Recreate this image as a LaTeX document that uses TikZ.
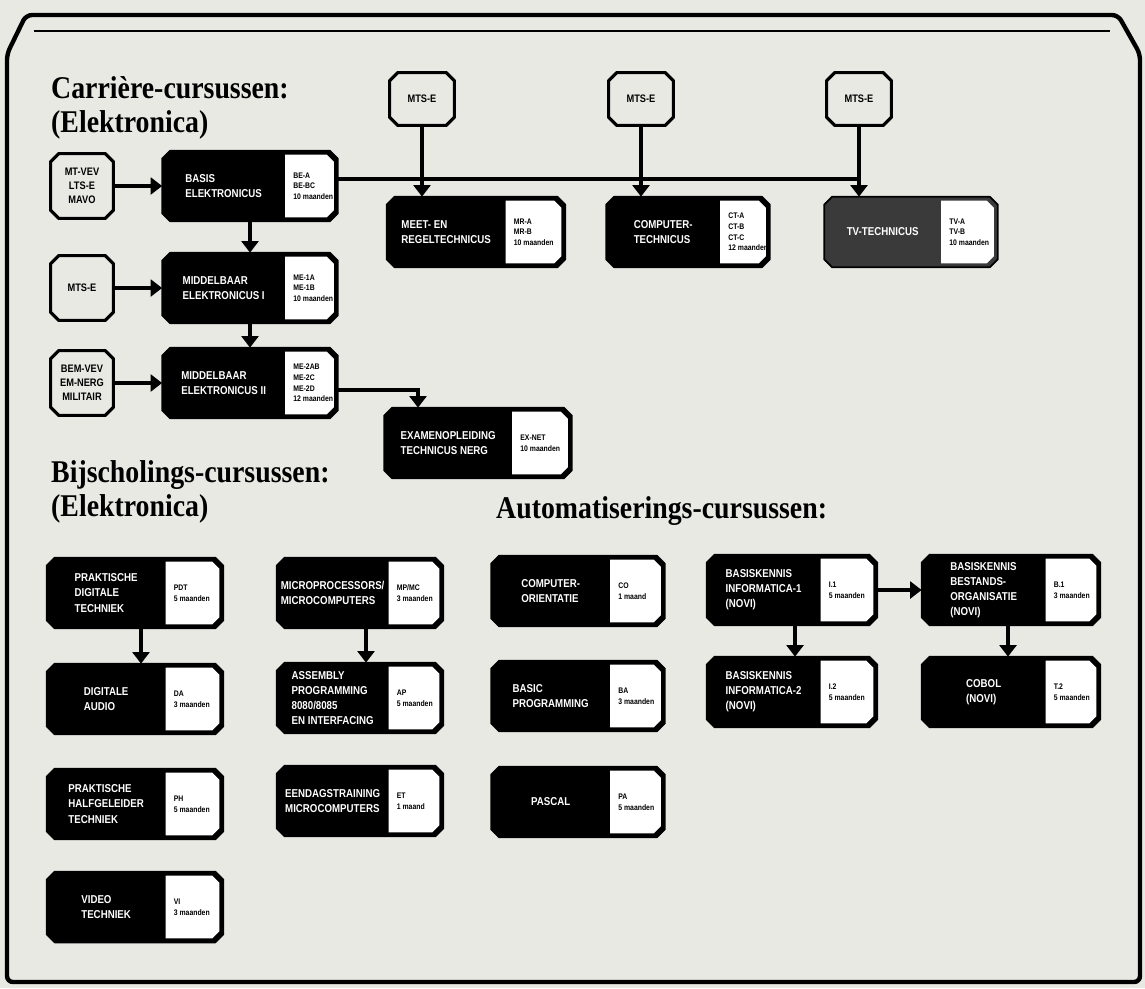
\documentclass[tikz,border=0pt]{standalone}
\usepackage{fontspec}
\usetikzlibrary{arrows.meta,calc}
\setmainfont{Liberation Serif}
\newfontfamily\headfont[FakeStretch=0.88]{Liberation Serif}
\newfontfamily\boxfont[FakeStretch=0.85]{Liberation Sans}

\def\pix{0.02cm}
\definecolor{paper}{RGB}{233,233,228}
\definecolor{tvgrey}{RGB}{58,58,58}

\tikzset{
  coursebox/.style={rectangle, inner sep=0pt, minimum height=70*\pix},
  panelbox/.style={rectangle, inner sep=0pt, minimum height=62*\pix},
  srcbox/.style={rectangle, inner sep=0pt, align=center, font=\boxfont\bfseries\fontsize{6.2}{8}\selectfont},
  titletext/.style={text=white, align=left, font=\boxfont\bfseries\fontsize{6.5}{8.6}\selectfont},
  codetext/.style={align=left, font=\boxfont\bfseries\fontsize{4.6}{6}\selectfont},
  headtext/.style={anchor=base west, font=\headfont\bfseries\fontsize{18}{20}\selectfont},
  flow/.style={line width=1.8pt, -{Triangle[width=9.5pt,length=6.5pt]}},
  plain/.style={line width=1.8pt}
}

% outline with cut corners round a node
\newcommand{\cutbox}[3]{%
  \path[#3] ([xshift=#2]#1.north west) -- ([xshift=-#2]#1.north east) -- ([yshift=-#2]#1.north east)
    -- ([yshift=#2]#1.south east) -- ([xshift=-#2]#1.south east) -- ([xshift=#2]#1.south west)
    -- ([yshift=#2]#1.south west) -- ([yshift=-#2]#1.north west) -- cycle;}

% box with a white code panel at its right end
\newcommand{\course}[7][black]{%
  \node[coursebox, minimum width=#4*\pix] (#2) at (#3) {};
  \cutbox{#2}{8*\pix}{fill=#1, draw=black, line width=1pt, line join=round}
  \node[panelbox, minimum width=#5*\pix, anchor=east] (#2-p) at ([xshift=-4*\pix]#2.east) {};
  \fill[white] (#2-p.north west) -- ([xshift=-7*\pix]#2-p.north east) -- ([yshift=-7*\pix]#2-p.north east)
    -- ([yshift=7*\pix]#2-p.south east) -- ([xshift=-7*\pix]#2-p.south east) -- (#2-p.south west) -- cycle;
  \node[titletext] (#2-t) at ($(#2.west)!0.5!(#2-p.west)$) {#6};
  \node[codetext, anchor=west] (#2-c) at ([xshift=2*\pix]#2-p.west) {#7};
}

\begin{document}
\begin{tikzpicture}[x=0.02cm, y=-0.02cm]
\fill[paper] (0,0) rectangle (1145,988);
\useasboundingbox (0,0) rectangle (1145,988);
% frame
\draw[line width=2.5pt, rounded corners=0.12cm] (7,54) -- (26,15) -- (1118,15) -- (1140,54) -- (1140,982) -- (7,982) -- cycle;
\draw[line width=0.8pt] (34,31) -- (1110,31);

% headings
\node[headtext] (carr) at (45,98) {Carrière-cursussen:};
\node[headtext] (carr-el) at (45,132) {(Elektronica)};
\node[headtext] (bijs) at (45,482) {Bijscholings-cursussen:};
\node[headtext] (bijs-el) at (45,516) {(Elektronica)};
\node[headtext] (auto) at (490,518) {Automatiserings-cursussen:};

% entry boxes
\node[srcbox, minimum width=62*\pix, minimum height=64*\pix] (mtvev) at (82,186) {MT-VEV\\LTS-E\\MAVO};
\node[srcbox, minimum width=62*\pix, minimum height=64*\pix] (mtsl) at (82,288) {MTS-E};
\node[srcbox, minimum width=62*\pix, minimum height=64*\pix] (bemvev) at (82,383) {BEM-VEV\\EM-NERG\\MILITAIR};
\node[srcbox, minimum width=64*\pix, minimum height=52*\pix] (mte1) at (422,99) {MTS-E};
\node[srcbox, minimum width=64*\pix, minimum height=52*\pix] (mte2) at (641,99) {MTS-E};
\node[srcbox, minimum width=64*\pix, minimum height=52*\pix] (mte3) at (859,99) {MTS-E};
\foreach \s in {mtvev,mtsl,bemvev,mte1,mte2,mte3}
  \cutbox{\s}{8*\pix}{draw=black, line width=1.8pt, line join=round};

% career courses
\course{basis}{250,186}{175}{48}{BASIS\\ELEKTRONICUS}{BE-A\\BE-BC\\10 maanden}
\course{me1}{250,288}{175}{48}{MIDDELBAAR\\ELEKTRONICUS I}{ME-1A\\ME-1B\\10 maanden}
\course{me2}{250,383}{175}{48}{MIDDELBAAR\\ELEKTRONICUS II}{ME-2AB\\ME-2C\\ME-2D\\12 maanden}
\course{meet}{476,232}{178}{55}{MEET- EN\\REGELTECHNICUS}{MR-A\\MR-B\\10 maanden}
\course{comp}{688,232}{163}{45}{COMPUTER-\\TECHNICUS}{CT-A\\CT-B\\CT-C\\12 maanden}
\course[tvgrey]{tv}{911,232}{173}{52}{TV-TECHNICUS}{TV-A\\TV-B\\10 maanden}
\course{exam}{478,443}{187}{55}{EXAMENOPLEIDING\\TECHNICUS NERG}{EX-NET\\10 maanden}

% refresher courses
\course{pdt}{135,593}{176}{53}{PRAKTISCHE\\DIGITALE\\TECHNIEK}{PDT\\5 maanden}
\course{da}{135,699}{176}{53}{DIGITALE\\AUDIO}{DA\\3 maanden}
\course{ph}{135,804}{176}{53}{PRAKTISCHE\\HALFGELEIDER\\TECHNIEK}{PH\\5 maanden}
\course{vi}{135,907}{176}{53}{VIDEO\\TECHNIEK}{VI\\3 maanden}
\course{mpmc}{360,593}{166}{50}{MICROPROCESSORS/\\MICROCOMPUTERS}{MP/MC\\3 maanden}
\course{ap}{360,698}{166}{50}{ASSEMBLY\\PROGRAMMING\\8080/8085\\EN INTERFACING}{AP\\5 maanden}
\course{et}{360,801}{166}{50}{EENDAGSTRAINING\\MICROCOMPUTERS}{ET\\1 maand}

% automation courses
\course{co}{578,591}{173}{50}{COMPUTER-\\ORIENTATIE}{CO\\1 maand}
\course{ba}{578,696}{173}{50}{BASIC\\PROGRAMMING}{BA\\3 maanden}
\course{pa}{578,802}{173}{50}{PASCAL}{PA\\5 maanden}
\course{i1}{792,590}{170}{52}{BASISKENNIS\\INFORMATICA-1\\(NOVI)}{I.1\\5 maanden}
\course{i2}{792,692}{170}{52}{BASISKENNIS\\INFORMATICA-2\\(NOVI)}{I.2\\5 maanden}
\course{bbo}{1011,590}{178}{50}{BASISKENNIS\\BESTANDS-\\ORGANISATIE\\(NOVI)}{B.1\\3 maanden}
\course{cobol}{1011,692}{178}{50}{COBOL\\(NOVI)}{T.2\\5 maanden}

% connectors
\coordinate (split) at (859,179);
\coordinate (bend) at (418,390);
\draw[flow] (mtvev) -- (basis);
\draw[flow] (mtsl) -- (me1);
\draw[flow] (bemvev) -- (me2);
\draw[flow] (basis) -- (me1);
\draw[flow] (me1) -- (me2);
\draw[plain] (basis.east |- split) -- (split);
\draw[flow] (mte1) -- (mte1 |- meet.north);
\draw[flow] (mte2) -- (mte2 |- comp.north);
\draw[flow] (mte3) -- (mte3 |- tv.north);
\draw[flow] (me2.east |- bend) -- (bend) -- (bend |- exam.north);
\draw[flow] ([xshift=6*\pix]pdt.south) -- ([xshift=6*\pix]da.north);
\draw[flow] ([xshift=6*\pix]mpmc.south) -- ([xshift=6*\pix]ap.north);
\draw[flow] ([xshift=3*\pix]i1.south) -- ([xshift=3*\pix]i2.north);
\draw[flow] (i1) -- (bbo);
\draw[flow] ([xshift=-3*\pix]bbo.south) -- ([xshift=-3*\pix]cobol.north);
\end{tikzpicture}
\end{document}
